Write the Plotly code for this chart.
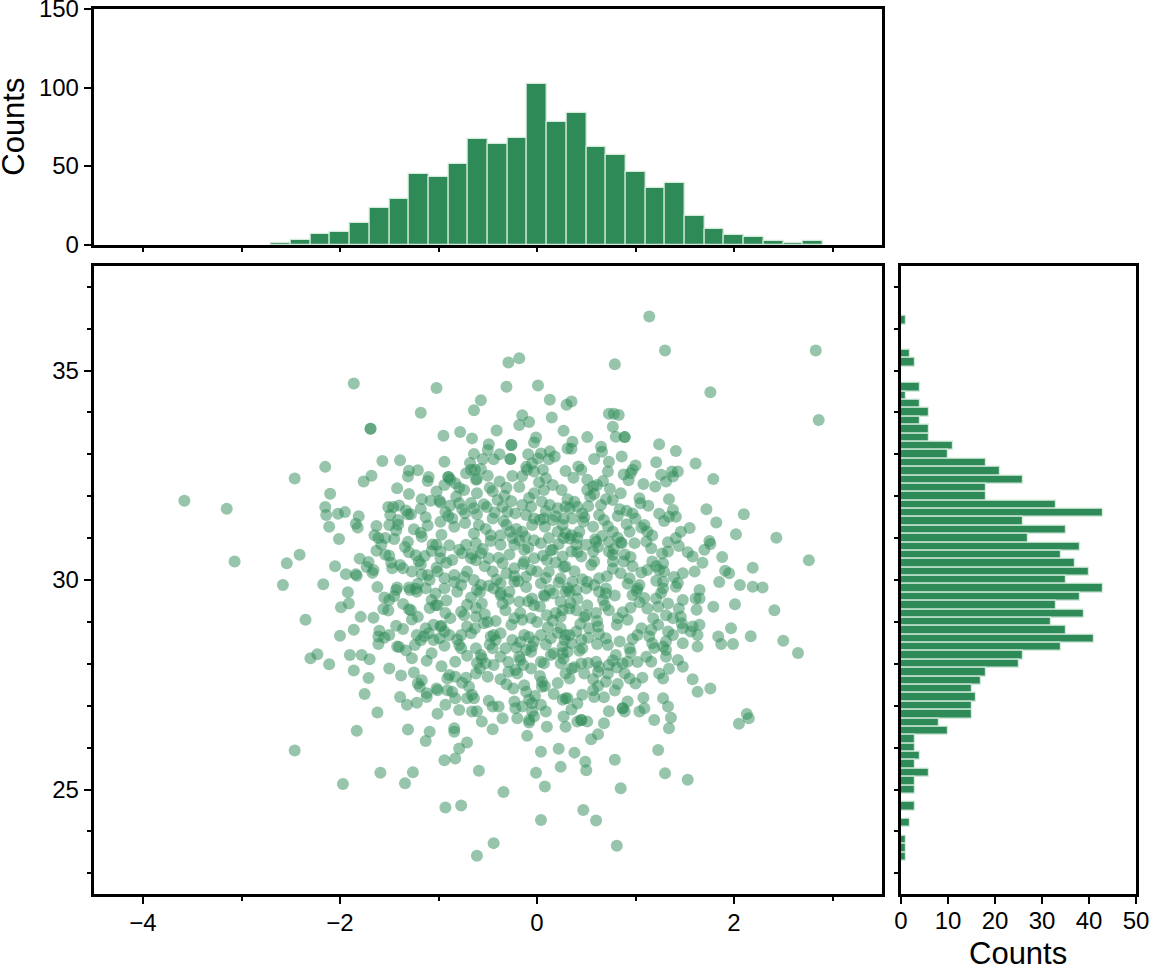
import plotly.graph_objects as go

# ---------------- data ----------------
hist_top_centers = [-2.6, -2.4, -2.2, -2.0, -1.8, -1.6, -1.4, -1.2, -1.0, -0.8,
                    -0.6, -0.4, -0.2, 0.0, 0.2, 0.4, 0.6, 0.8, 1.0, 1.2,
                    1.4, 1.6, 1.8, 2.0, 2.2, 2.4, 2.6, 2.8]
hist_top_counts = [1, 3, 7, 8, 14, 23, 29, 45, 43, 51,
                   67, 64, 68, 102, 78, 84, 62, 57, 46, 36,
                   39, 18, 10, 6, 5, 2, 1, 2]

hist_right_centers = [36.2, 36.0, 35.8, 35.6, 35.4, 35.2, 35.0, 34.8, 34.6, 34.4,
                      34.2, 34.0, 33.8, 33.6, 33.4, 33.2, 33.0, 32.8, 32.6, 32.4,
                      32.2, 32.0, 31.8, 31.6, 31.4, 31.2, 31.0, 30.8, 30.6, 30.4,
                      30.2, 30.0, 29.8, 29.6, 29.4, 29.2, 29.0, 28.8, 28.6, 28.4,
                      28.2, 28.0, 27.8, 27.6, 27.4, 27.2, 27.0, 26.8, 26.6, 26.4,
                      26.2, 26.0, 25.8, 25.6, 25.4, 25.2, 25.0, 24.8, 24.6, 24.4,
                      24.2, 24.0, 23.8, 23.6, 23.4]
hist_right_counts = [1, 0, 0, 0, 2, 3, 0, 0, 4, 1,
                     4, 6, 4, 6, 6, 11, 10, 18, 21, 26,
                     18, 18, 33, 43, 26, 35, 27, 38, 34, 37,
                     40, 35, 43, 38, 33, 39, 32, 35, 41, 34,
                     26, 25, 18, 17, 15, 16, 15, 15, 8, 10,
                     3, 3, 4, 3, 6, 3, 3, 0, 3, 0,
                     2, 0, 1, 1, 1]

axis_label = "Counts"

scatter_points = [
    # far left
    (-2.46, 32.42), (-3.58, 31.89), (-3.15, 31.70), (-3.07, 30.44), (-2.54, 30.40), (-2.41, 30.60), (-2.58, 29.88),
    # upper left
    (-1.86, 34.69), (-1.02, 34.58), (-1.18, 33.99), (-1.69, 33.61), (-1.69, 33.61), (-2.15, 32.70), (-1.57, 32.84),
    (-1.39, 32.86), (-1.30, 32.61), (-1.31, 32.47), (-1.68, 32.49), (-1.76, 32.35), (-1.10, 32.46), (-1.11, 32.36),
    (-2.10, 32.06), (-1.30, 32.05), (-1.08, 31.89), (-2.15, 31.74), (-2.14, 31.55), (-2.02, 31.58), (-1.95, 31.62),
    (-1.81, 31.52), (-1.84, 31.34), (-1.82, 31.25), (-2.11, 31.27), (-2.01, 30.98), (-1.51, 31.74), (-1.46, 31.74),
    (-1.40, 31.78), (-1.49, 31.55), (-1.41, 31.43), (-1.50, 31.31), (-1.63, 31.29), (-1.43, 31.18), (-1.65, 31.07),
    (-1.61, 31.00), (-1.54, 31.00), (-1.45, 30.98), (-1.31, 31.57), (-1.28, 31.57), (-1.18, 31.70), (-1.13, 31.50),
    (-1.11, 31.30), (-1.18, 31.13), (-1.17, 31.03), (-1.06, 30.85), (-1.07, 30.69), (-1.34, 30.79), (-1.63, 30.70),
    (-1.54, 30.60), (-1.50, 30.58), (-1.48, 30.41), (-1.47, 30.28), (-1.80, 30.51), (-1.71, 30.43), (-1.66, 30.24),
    (-1.67, 30.17), (-1.94, 30.14), (-1.84, 30.14), (-1.83, 30.10), (-1.36, 30.28), (-1.27, 30.20), (-1.30, 30.66),
    (-1.23, 30.59), (-1.20, 30.45), (-1.18, 30.37), (-1.11, 30.12), (-1.09, 30.00), (-2.17, 29.90), (-1.42, 29.82),
    (-1.30, 29.82), (-1.23, 29.79),
    # upper centre-left
    (-0.29, 35.19), (-0.18, 35.29), (-0.31, 34.61), (0.01, 34.64), (-0.57, 34.29), (-0.64, 34.05), (0.13, 34.30),
    (0.30, 34.18), (-0.15, 33.93), (-0.18, 33.70), (-0.08, 33.77), (0.15, 33.88), (-0.95, 33.44), (-0.78, 33.53),
    (-0.66, 33.38), (-0.49, 33.24), (-0.26, 33.22), (-0.26, 33.22), (-0.27, 32.89), (-0.27, 32.89), (-0.50, 33.10),
    (-0.38, 33.00), (-0.44, 32.88), (-0.55, 32.89), (-0.64, 33.01), (-0.68, 32.79), (-0.94, 32.82), (0.27, 33.56),
    (-0.03, 33.28), (-0.01, 33.40), (-0.09, 33.00), (0.04, 33.02), (0.13, 33.07), (0.12, 32.88), (0.01, 32.90),
    (-0.11, 32.70), (-0.15, 32.48), (-0.10, 32.63), (-0.03, 32.59), (0.06, 32.63), (0.09, 32.43), (0.29, 32.60),
    (0.31, 33.14), (-0.63, 32.63), (-0.57, 32.65), (-0.67, 32.63), (-0.50, 32.49), (-0.62, 32.39), (-0.90, 32.46),
    (-0.90, 32.46), (-0.88, 32.40), (-0.94, 32.27), (-0.38, 32.35), (-0.25, 32.48), (-0.31, 32.20), (-0.48, 32.20),
    (-0.79, 32.20), (-0.74, 32.15), (-0.61, 32.07), (-0.33, 32.01), (-0.40, 31.91), (-0.54, 31.81), (-0.51, 31.74),
    (-0.67, 31.84), (-0.82, 31.99), (-0.98, 31.85), (-0.88, 31.78), (-0.99, 31.89), (-0.76, 31.69), (-0.73, 31.59),
    (-0.90, 31.53), (-0.98, 31.39), (-0.84, 31.27), (-0.61, 31.57), (-0.45, 31.47), (-0.35, 31.75), (-0.30, 31.63),
    (-0.31, 31.31), (-0.22, 31.59), (-0.15, 31.79), (-0.06, 31.75), (-0.03, 32.07), (0.07, 32.15), (0.16, 32.27),
    (0.25, 32.15), (0.05, 31.87), (0.13, 31.79), (0.21, 31.71), (0.29, 31.75), (-0.11, 31.55), (-0.03, 31.47),
    (0.07, 31.47), (0.16, 31.43), (0.27, 31.47), (-0.15, 31.15), (-0.05, 31.31), (-0.27, 31.15), (-0.25, 31.00),
    (-0.37, 31.07), (-0.59, 31.31), (-0.64, 31.11), (-0.47, 31.07), (-0.62, 30.88), (-0.72, 30.84), (-0.79, 30.72),
    (-0.76, 30.64), (-0.86, 30.48), (-0.98, 30.68), (-1.02, 30.84), (-0.57, 30.64), (-0.67, 30.52), (-0.49, 30.52),
    (-0.35, 30.40), (-0.37, 30.84), (-0.23, 30.84), (-0.13, 30.72), (-0.03, 30.95), (0.04, 30.88), (0.12, 31.00),
    (0.21, 31.15), (0.26, 31.31), (0.27, 31.00), (0.16, 30.72), (0.26, 30.56), (0.10, 30.48), (-0.03, 30.52),
    (-0.13, 30.44), (-0.23, 30.28), (-0.11, 30.08), (0.00, 30.20), (0.12, 30.20), (0.24, 30.04), (0.29, 30.32),
    (-0.45, 30.20), (-0.64, 30.00), (-0.71, 30.20), (-0.84, 30.12), (-0.94, 30.04), (-1.01, 30.20), (-0.57, 29.88),
    (-0.37, 29.92), (-0.23, 29.96), (0.04, 29.92), (-0.77, 29.88),
    # upper centre-right
    (1.14, 36.29), (1.30, 35.48), (0.79, 35.15), (0.35, 34.26), (0.73, 33.97), (0.78, 33.97), (0.83, 33.94),
    (0.77, 33.66), (0.80, 33.42), (0.89, 33.41), (0.89, 33.41), (0.36, 33.30), (0.35, 33.13), (0.65, 33.18),
    (0.66, 33.06), (0.58, 32.89), (0.73, 32.82), (0.86, 32.95), (1.24, 33.24), (1.41, 33.08), (1.61, 32.78),
    (1.21, 32.81), (1.00, 32.73), (0.97, 32.63), (0.95, 32.55), (1.26, 32.51), (1.31, 32.35), (1.20, 32.23),
    (1.37, 32.59), (1.43, 32.59), (1.38, 32.47), (0.72, 32.59), (0.45, 32.63), (0.51, 32.39), (0.67, 32.36),
    (0.57, 32.23), (0.61, 32.27), (0.51, 32.15), (0.54, 31.99), (0.85, 32.07), (0.77, 31.91), (0.70, 31.93),
    (0.65, 31.79), (1.04, 31.95), (1.05, 31.83), (1.34, 31.93), (1.38, 31.67), (1.34, 31.51), (1.41, 31.51),
    (0.91, 31.65), (0.97, 31.59), (1.00, 31.47), (0.82, 31.53), (0.68, 31.43), (0.38, 31.87), (0.41, 31.75),
    (0.33, 31.71), (0.46, 31.59), (0.48, 31.50), (0.36, 31.47), (0.57, 31.27), (0.43, 31.15), (0.35, 31.07),
    (1.09, 31.31), (1.06, 31.25), (1.17, 31.06), (0.94, 31.15), (0.77, 31.15), (0.82, 31.01), (0.85, 30.90),
    (0.99, 30.88), (0.73, 30.91), (0.60, 30.91), (0.62, 30.79), (0.50, 30.84), (0.40, 30.84), (0.35, 30.68),
    (0.45, 30.56), (0.57, 30.68), (0.73, 30.68), (0.77, 30.60), (0.89, 30.61), (0.77, 30.44), (0.58, 30.44),
    (1.16, 30.76), (1.33, 30.90), (1.46, 31.15), (1.41, 31.00), (1.33, 30.68), (1.53, 30.66), (1.58, 30.56),
    (1.17, 30.44), (1.28, 30.40), (1.12, 30.24), (1.24, 30.24), (1.29, 30.20), (1.48, 30.16), (1.60, 30.20),
    (0.97, 30.33), (0.85, 30.16), (0.94, 30.04), (1.04, 29.88), (1.21, 29.98), (1.28, 29.96), (1.41, 29.84),
    (0.70, 29.80), (0.51, 29.96), (0.36, 29.96), (0.63, 30.04),
    # upper right
    (2.83, 35.48), (1.76, 34.48), (2.86, 33.82), (1.79, 32.41), (2.10, 31.57), (1.82, 31.37), (2.02, 31.09),
    (2.43, 31.01), (1.75, 30.93), (1.76, 30.86), (1.70, 30.72), (2.76, 30.47), (2.19, 30.29), (1.91, 30.22),
    (1.95, 30.16), (1.85, 29.95), (2.06, 29.88), (2.19, 29.84), (2.29, 29.82),
    # lower left
    (-2.35, 29.05), (-2.46, 25.93),
    (-1.99, 29.35), (-1.91, 29.44), (-1.66, 29.10), (-1.56, 29.31), (-1.55, 29.58), (-1.50, 29.52), (-1.43, 29.76),
    (-1.36, 29.43), (-1.30, 29.30), (-1.28, 29.28), (-1.21, 29.12), (-1.29, 29.76), (-1.22, 29.72), (-1.13, 29.80),
    (-1.07, 29.52), (-1.03, 29.40), (-2.00, 28.67), (-1.86, 28.81), (-1.60, 28.79), (-1.61, 28.65), (-1.50, 28.69),
    (-1.43, 28.91), (-1.42, 28.41), (-1.40, 28.40), (-1.24, 28.45), (-1.22, 28.69), (-1.13, 28.85), (-1.15, 28.65),
    (-1.10, 28.73), (-1.05, 28.93), (-1.05, 28.57), (-1.07, 28.25), (-1.27, 28.13), (-2.30, 28.13), (-2.23, 28.23),
    (-2.11, 27.99), (-1.90, 28.21), (-1.78, 28.21), (-1.70, 28.11), (-1.86, 27.84), (-1.50, 27.89), (-1.25, 27.79),
    (-1.21, 27.53), (-1.19, 27.45), (-1.12, 27.30), (-1.12, 27.21), (-1.02, 27.41), (-1.75, 27.28), (-1.39, 27.21),
    (-1.32, 27.02), (-1.62, 26.84), (-1.83, 26.40), (-1.31, 26.43), (-1.09, 26.38), (-1.13, 26.16), (-1.59, 25.40),
    (-1.26, 25.41), (-1.34, 25.15), (-1.97, 25.13),
    # lower centre-left
    (-0.94, 29.80), (-0.81, 29.72), (-0.61, 29.76), (-0.56, 29.44), (-0.44, 29.80), (-0.37, 29.64), (-0.28, 29.72),
    (-0.18, 29.48), (-0.05, 29.56), (-0.03, 29.40), (0.07, 29.64), (0.17, 29.68), (0.24, 29.48), (0.29, 29.72),
    (-1.01, 29.40), (-0.93, 29.21), (-0.77, 29.24), (-0.74, 29.16), (-0.62, 29.12), (-0.50, 29.00), (-0.32, 29.28),
    (-0.23, 29.09), (-0.15, 29.05), (-0.06, 29.09), (0.00, 29.00), (0.10, 29.16), (0.19, 29.21), (0.24, 29.12),
    (-0.98, 28.89), (-0.94, 28.77), (-0.99, 28.61), (-0.89, 28.69), (-0.77, 28.69), (-0.67, 28.73), (-0.71, 28.89),
    (-0.47, 28.65), (-0.42, 28.57), (-0.37, 28.73), (-0.25, 28.57), (-0.13, 28.69), (-0.03, 28.53), (-0.05, 28.41),
    (0.04, 28.69), (0.14, 28.61), (0.24, 28.85), (0.29, 28.69), (0.26, 28.41), (0.17, 28.25), (0.26, 28.25),
    (-0.79, 28.45), (-0.77, 28.37), (-0.62, 28.37), (-0.57, 28.21), (-0.56, 28.13), (-0.45, 28.37), (-0.37, 28.17),
    (-0.32, 28.37), (-0.18, 28.17), (-0.17, 28.09), (-0.06, 28.29), (0.04, 28.05), (0.07, 28.01), (0.24, 28.01),
    (-0.83, 28.05), (-0.52, 28.01), (-0.44, 27.97), (-0.22, 27.85), (-0.06, 27.89), (-0.89, 27.73), (-0.91, 27.65),
    (-0.83, 27.69), (-0.72, 27.67), (-0.62, 27.77), (-0.50, 27.69), (-0.20, 27.77), (0.05, 27.57), (0.05, 27.45),
    (0.08, 27.47), (-0.13, 27.49), (-0.31, 27.51), (-1.01, 27.37), (-0.91, 27.37), (-0.69, 27.45), (-0.66, 27.26),
    (-0.64, 27.18), (-0.71, 27.18), (-0.83, 27.18), (-0.93, 27.02), (-0.79, 26.90), (-0.66, 26.86), (-0.61, 26.87),
    (-0.45, 26.98), (-0.39, 26.98), (-0.35, 26.70), (-0.23, 27.10), (-0.22, 26.94), (-0.15, 26.98), (-0.11, 27.33),
    (-0.08, 27.14), (-0.05, 27.06), (0.04, 27.02), (0.09, 26.86), (-0.05, 26.86), (-0.20, 26.70), (-0.08, 26.66),
    (-0.08, 26.60), (0.10, 26.50), (0.29, 27.18), (0.27, 26.74), (0.29, 26.50), (0.26, 27.14), (-0.84, 26.46),
    (-0.84, 26.38), (-0.45, 26.44), (-0.10, 26.28), (-0.79, 25.98), (-0.94, 25.70), (-0.83, 25.74), (-0.59, 25.45),
    (0.04, 25.90), (0.24, 25.54), (-0.01, 25.40), (0.08, 25.07), (-0.34, 24.94), (-0.93, 24.57), (-0.77, 24.62),
    (0.04, 24.27), (-0.44, 23.72), (-0.61, 23.42),
    # lower centre-right
    (0.33, 29.72), (0.40, 29.76), (0.50, 29.80), (0.63, 29.72), (0.70, 29.68), (0.97, 29.64), (1.02, 29.80),
    (1.21, 29.56), (1.28, 29.80), (1.61, 29.56), (0.33, 29.32), (0.40, 29.28), (0.51, 29.40), (0.50, 29.16),
    (0.60, 29.21), (0.73, 29.28), (0.82, 29.09), (0.95, 29.34), (1.12, 29.32), (1.23, 29.36), (1.33, 29.44),
    (1.44, 29.32), (1.48, 29.52), (1.31, 29.16), (1.38, 29.09), (1.46, 29.12), (1.23, 28.93), (1.33, 28.77),
    (1.38, 28.69), (1.48, 28.85), (1.56, 28.77), (1.58, 28.89), (1.63, 28.69), (1.06, 28.85), (1.02, 28.69),
    (1.14, 28.65), (1.17, 28.49), (1.31, 28.33), (1.28, 28.41), (1.48, 28.49), (1.63, 28.41), (0.33, 28.69),
    (0.40, 28.77), (0.45, 28.57), (0.35, 28.49), (0.31, 28.29), (0.46, 28.37), (0.53, 28.85), (0.62, 28.89),
    (0.70, 28.61), (0.72, 28.45), (0.84, 28.53), (0.94, 28.37), (0.80, 28.21), (1.11, 28.17), (1.16, 28.05),
    (1.31, 28.17), (1.43, 28.09), (1.48, 27.93), (0.45, 28.01), (0.35, 27.89), (0.60, 28.05), (0.63, 27.93),
    (0.73, 27.97), (0.87, 28.01), (0.92, 28.05), (0.48, 27.77), (0.62, 27.81), (0.72, 27.77), (0.89, 27.77),
    (0.70, 27.57), (0.82, 27.52), (0.94, 27.65), (1.00, 27.53), (1.24, 27.77), (1.28, 27.65), (1.58, 27.63),
    (1.63, 27.33), (0.33, 27.65), (0.31, 27.18), (0.46, 27.26), (0.57, 27.37), (0.58, 27.21), (0.68, 27.20),
    (1.28, 27.18), (1.33, 26.98), (1.36, 26.71), (1.34, 26.46), (0.73, 26.87), (0.87, 26.94), (0.87, 26.94),
    (0.89, 26.86), (0.92, 27.10), (1.04, 26.86), (1.09, 26.94), (0.41, 26.62), (0.45, 26.66), (0.45, 26.66),
    (0.51, 26.62), (0.55, 26.20), (0.62, 26.32), (0.38, 25.88), (0.49, 25.66), (0.50, 25.46), (0.79, 25.71),
    (1.23, 25.94), (1.30, 25.39), (1.53, 25.23), (0.85, 25.03), (0.47, 24.51), (0.60, 24.26), (0.81, 23.66),
    # lower right
    (1.65, 29.76), (1.65, 29.56), (1.79, 29.36), (2.41, 29.28), (1.65, 28.93), (1.97, 28.85), (1.84, 28.65),
    (1.87, 28.47), (1.99, 28.47), (2.17, 28.66), (2.50, 28.55), (2.65, 28.26), (1.76, 27.41), (2.13, 26.80),
    (2.15, 26.70), (2.05, 26.57),
    # dense core, overlapping points (estimated)
    (-0.72, 32.55), (0.42, 32.71), (-0.05, 32.78), (0.88, 32.52), (-1.21, 32.62), (0.18, 32.95),
    (-0.83, 32.31), (-0.45, 32.12), (0.02, 32.33), (0.37, 32.44), (0.74, 32.18), (1.08, 32.29), (-1.02, 32.11),
    (-0.18, 32.22), (0.58, 32.05), (-0.61, 32.41), (0.93, 32.38), (-1.42, 32.19),
    (-1.17, 31.93), (-0.93, 31.62), (-0.64, 31.71), (-0.26, 31.88), (0.09, 31.64), (0.31, 31.93), (0.52, 31.76),
    (0.84, 31.69), (1.13, 31.77), (-0.43, 31.61), (0.63, 31.55), (-0.08, 31.96), (1.24, 31.58), (-1.33, 31.66),
    (0.19, 31.52), (-0.79, 31.83),
    (-1.25, 31.21), (-0.97, 31.08), (-0.73, 31.36), (-0.52, 31.22), (-0.34, 31.41), (-0.12, 31.03), (0.08, 31.27),
    (0.29, 31.12), (0.47, 31.39), (0.66, 31.05), (0.91, 31.33), (1.12, 31.16), (1.29, 31.41), (-0.86, 31.47),
    (0.41, 31.01), (-0.21, 31.22), (0.72, 31.28), (-1.41, 31.32), (1.55, 31.24), (0.03, 31.44),
    (-1.31, 30.91), (-1.14, 30.57), (-0.89, 30.83), (-0.66, 30.62), (-0.47, 30.93), (-0.28, 30.61), (-0.09, 30.77),
    (0.06, 30.58), (0.22, 30.86), (0.41, 30.66), (0.59, 30.97), (0.78, 30.74), (0.95, 30.55), (1.11, 30.92),
    (1.27, 30.63), (-0.55, 30.74), (0.33, 30.99), (-0.18, 30.95), (0.86, 30.88), (-0.98, 30.52), (1.44, 30.81),
    (-1.58, 30.85), (0.14, 30.71), (-0.39, 30.53),
    (-1.39, 30.36), (-1.17, 30.13), (-0.92, 30.41), (-0.74, 30.07), (-0.53, 30.33), (-0.31, 30.16), (-0.14, 30.38),
    (0.09, 30.05), (0.19, 30.42), (0.38, 30.21), (0.55, 30.36), (0.71, 30.09), (0.88, 30.44), (1.06, 30.18),
    (1.21, 30.33), (1.39, 30.07), (-0.62, 30.47), (-0.06, 30.24), (0.46, 30.02), (-1.02, 30.29), (0.77, 30.27),
    (-0.41, 30.01), (1.68, 30.41), (-1.73, 30.31), (0.27, 30.31), (-0.23, 30.09),
    (-1.45, 29.62), (-1.21, 29.91), (-1.03, 29.68), (-0.84, 29.95), (-0.67, 29.58), (-0.49, 29.86), (-0.29, 29.54),
    (-0.11, 29.83), (0.08, 29.61), (0.22, 29.94), (0.41, 29.55), (0.58, 29.88), (0.79, 29.63), (0.92, 29.91),
    (1.09, 29.57), (1.26, 29.69), (1.43, 29.93), (-0.58, 29.71), (-0.19, 29.97), (0.31, 29.81), (0.67, 29.52),
    (-0.92, 29.51), (0.13, 29.76), (-0.37, 29.69), (1.01, 29.74), (-1.62, 29.83),
    (-1.51, 29.27), (-1.27, 29.06), (-1.09, 29.33), (-0.88, 29.09), (-0.71, 29.41), (-0.53, 29.18), (-0.35, 29.44),
    (-0.17, 29.21), (0.03, 29.37), (0.16, 29.03), (0.34, 29.45), (0.48, 29.11), (0.69, 29.39), (0.87, 29.23),
    (1.04, 29.47), (1.18, 29.08), (-0.42, 29.02), (0.26, 29.28), (0.61, 29.02), (-0.09, 29.49), (-1.79, 29.12),
    (1.62, 29.29), (-0.62, 29.33), (0.92, 29.05),
    (-1.36, 28.83), (-1.18, 28.56), (-0.97, 28.91), (-0.81, 28.58), (-0.63, 28.84), (-0.44, 28.69), (-0.26, 28.93),
    (-0.08, 28.64), (0.11, 28.87), (0.28, 28.57), (0.44, 28.95), (0.63, 28.71), (0.81, 28.93), (0.97, 28.59),
    (1.16, 28.81), (1.31, 28.54), (-0.54, 28.97), (0.21, 28.74), (-0.17, 28.52), (0.52, 28.62), (-1.55, 28.62),
    (1.47, 28.97),
    (-1.33, 28.32), (-1.12, 28.07), (-0.94, 28.43), (-0.71, 28.19), (-0.48, 28.46), (-0.29, 28.04), (-0.11, 28.33),
    (0.09, 28.46), (0.27, 28.12), (0.43, 28.31), (0.61, 28.47), (0.77, 28.08), (0.95, 28.27), (1.19, 28.38),
    (-0.61, 28.02), (0.14, 28.21), (0.52, 28.02), (-0.21, 28.39), (1.02, 28.04), (-1.61, 28.47),
    (-1.17, 27.61), (-0.97, 27.94), (-0.76, 27.55), (-0.58, 27.89), (-0.37, 27.63), (-0.14, 27.97), (0.03, 27.71),
    (0.21, 27.54), (0.38, 27.92), (0.57, 27.63), (0.81, 27.91), (1.07, 27.67), (-0.29, 27.81), (0.29, 27.77),
    (-1.38, 27.72), (1.34, 27.88),
    (-0.86, 27.33), (-0.49, 27.12), (-0.24, 27.41), (0.17, 27.28), (0.41, 27.05), (0.79, 27.36), (1.08, 27.19),
    (-1.22, 27.07), (-0.02, 27.23), (0.62, 27.47),
    (-0.56, 26.62), (-0.03, 26.74), (0.35, 26.91), (0.68, 26.58), (-1.01, 26.81), (1.19, 26.66),
    (-1.92, 29.71), (-2.05, 30.33), (1.88, 30.55), (2.01, 29.42), (-1.71, 27.66), (1.72, 31.69), (-0.41, 33.57),
    (0.51, 33.41), (-0.71, 26.12), (0.22, 25.97),
]

scatter_x = [p[0] for p in scatter_points]
scatter_y = [p[1] for p in scatter_points]

# ---------------- style ----------------
W, H = 1149, 966
GREEN = "#2e8b57"
FONT = "Liberation Sans, Arial, Helvetica, sans-serif"
TICK_SIZE = 24
LABEL_SIZE = 31


def fx(px):
    return px / W


def fy(py):
    return 1 - py / H


main_x_dom = [fx(93.75), fx(881.75)]
main_y_dom = [fy(894.25), fy(265.75)]
top_y_dom = [fy(244.5), fy(9.0)]
right_x_dom = [fx(901.0), fx(1136.0)]

fig = go.Figure()

fig.add_trace(go.Scatter(
    x=scatter_x, y=scatter_y, mode="markers",
    marker=dict(size=12, color=GREEN, opacity=0.5, line=dict(width=0)),
    xaxis="x", yaxis="y", showlegend=False, hoverinfo="skip",
))

fig.add_trace(go.Bar(
    x=hist_top_centers, y=hist_top_counts, width=0.2,
    marker=dict(color=GREEN, line=dict(color="#d4eadb", width=1.2)),
    xaxis="x2", yaxis="y2", showlegend=False,
))

fig.add_trace(go.Bar(
    y=hist_right_centers, x=hist_right_counts, width=0.2, orientation="h",
    marker=dict(color=GREEN, line=dict(color="#d4eadb", width=1.2)),
    xaxis="x3", yaxis="y3", showlegend=False,
))

axis_common = dict(
    showline=True, linecolor="black", linewidth=3, mirror=True,
    showgrid=False, zeroline=False, ticks="outside", tickcolor="black",
    tickwidth=1.5, automargin=False, ticklabeloverflow="allow",
    tickfont=dict(family=FONT, size=TICK_SIZE, color="black"),
)
minor_common = dict(dtick=1, ticklen=4, ticks="outside", tickcolor="black", tickwidth=1.5)

fig.update_layout(
    template="none",
    width=W, height=H,
    margin=dict(l=0, r=0, t=0, b=0, pad=0),
    paper_bgcolor="white", plot_bgcolor="white",
    font=dict(family=FONT, color="black"),
    bargap=0,
    xaxis=dict(domain=main_x_dom, range=[-4.5, 3.5], anchor="y",
               tick0=0, dtick=2, ticklen=7, ticklabelstandoff=-2,
               minor=minor_common, **axis_common),
    yaxis=dict(domain=main_y_dom, range=[22.5, 37.5], anchor="x",
               tick0=0, dtick=5, ticklen=7, minor=minor_common, **axis_common),
    xaxis2=dict(domain=main_x_dom, range=[-4.5, 3.5], anchor="y2",
                tick0=0, dtick=1, ticklen=4, showticklabels=False, **axis_common),
    yaxis2=dict(domain=top_y_dom, range=[0, 150], anchor="x2",
                tick0=0, dtick=50, ticklen=7, **axis_common),
    xaxis3=dict(domain=right_x_dom, range=[0, 50], anchor="y3",
                tick0=0, dtick=10, ticklen=7, ticklabelstandoff=-4, **axis_common),
    yaxis3=dict(domain=main_y_dom, range=[22.5, 37.5], anchor="x3",
                tick0=0, dtick=1, ticklen=4, showticklabels=False, **axis_common),
    annotations=[
        # y-axis title of the top histogram
        dict(text=axis_label, xref="paper", yref="paper",
             x=fx(14), y=(top_y_dom[0] + top_y_dom[1]) / 2,
             xanchor="center", yanchor="middle", textangle=-90, showarrow=False,
             font=dict(family=FONT, size=LABEL_SIZE, color="black")),
        # x-axis title of the right histogram
        dict(text=axis_label, xref="paper", yref="paper",
             x=(right_x_dom[0] + right_x_dom[1]) / 2, y=fy(953),
             xanchor="center", yanchor="middle", showarrow=False,
             font=dict(family=FONT, size=LABEL_SIZE, color="black")),
    ],
)

fig.write_html("out.html", config={"displayModeBar": False},
               post_script="document.body.style.margin='0px';")
